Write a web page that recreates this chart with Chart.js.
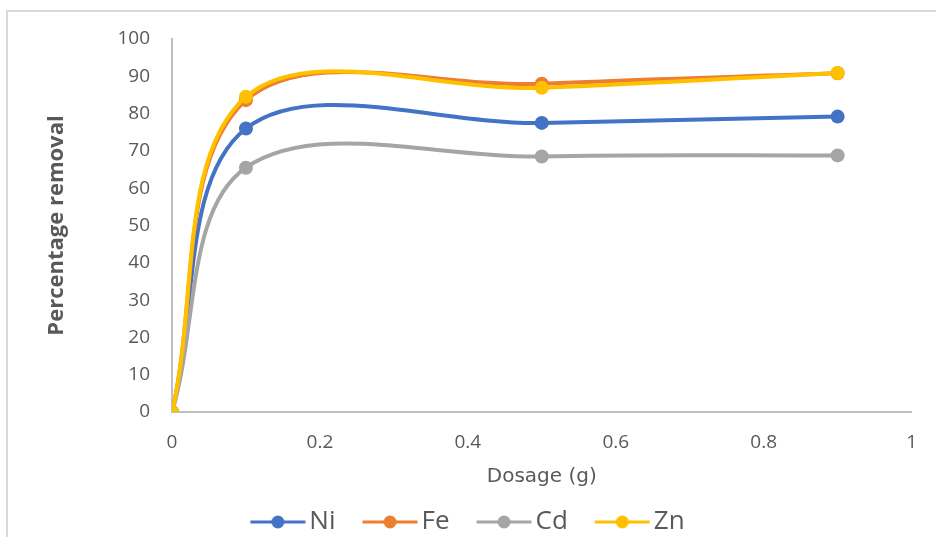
<!DOCTYPE html>
<html>
<head>
<meta charset="utf-8">
<script src="https://cdn.jsdelivr.net/npm/chart.js@4/dist/chart.umd.min.js"></script>
<style>
  html, body { margin: 0; padding: 0; background: #fff; }
  .frame { position: absolute; left: 6px; top: 10px; width: 1000px; height: 600px;
           border-left: 2px solid #d9d9d9; border-top: 2px solid #d9d9d9; }
  .wrap { position: absolute; left: 0; top: 0; width: 936px; height: 537px; }
</style>
</head>
<body>
<div class="frame"></div>
<div class="wrap"><canvas id="dosageChart"></canvas></div>
<script>
// dosage (g) on the x axis
const dosage = [0, 0.1, 0.5, 0.9];

// percentage removal per metal
const niRemoval = [0, 76, 77.5, 79.2];
const feRemoval = [0, 83.6, 88, 90.8];
const cdRemoval = [0, 65.5, 68.5, 68.8];
const znRemoval = [0, 84.5, 86.9, 90.9];

const metals = ['Ni', 'Fe', 'Cd', 'Zn'];
const colors = ['#4472C4', '#ED7D31', '#A5A5A5', '#FFC000'];
const series = [niRemoval, feRemoval, cdRemoval, znRemoval];

const textColor = '#595959';
const axisColor = '#bfbfbf';

// legend marker: short line with a dot, drawn off-centre so the text sits close
function legendMarker(color) {
  const c = document.createElement('canvas');
  c.width = 72;
  c.height = 16;
  const g = c.getContext('2d');
  g.strokeStyle = color;
  g.lineWidth = 3;
  g.beginPath();
  g.moveTo(16.5, 8);
  g.lineTo(71.5, 8);
  g.stroke();
  g.fillStyle = color;
  g.beginPath();
  g.arc(44, 8, 6.5, 0, Math.PI * 2);
  g.fill();
  return c;
}

const datasets = metals.map((name, i) => ({
  label: name,
  data: dosage.map((x, j) => ({ x: x, y: series[i][j] })),
  borderColor: colors[i],
  backgroundColor: colors[i],
  borderWidth: 4,
  pointRadius: 7,
  pointHoverRadius: 7,
  pointBorderWidth: 0,
  tension: 0.35,
  order: metals.length - 1 - i, // Zn drawn on top
}));

new Chart(document.getElementById('dosageChart'), {
  type: 'line',
  data: { datasets },
  options: {
    responsive: true,
    maintainAspectRatio: false,
    animation: false,
    layout: { padding: { left: 16, right: 24, top: 39, bottom: -8 } },
    plugins: {
      tooltip: { enabled: false },
      legend: {
        position: 'bottom',
        labels: {
          usePointStyle: true,
          pointStyleWidth: 53,
          boxHeight: 16,
          padding: 20,
          color: textColor,
          font: { family: 'Open Sans', size: 26 },
          sort: (a, b) => a.datasetIndex - b.datasetIndex,
          generateLabels: (chart) => chart.data.datasets.map((ds, i) => ({
            text: ds.label,
            pointStyle: legendMarker(colors[i]),
            fillStyle: colors[i],
            strokeStyle: colors[i],
            lineWidth: 0,
            fontColor: textColor,
            datasetIndex: i,
          })),
        },
      },
    },
    scales: {
      x: {
        type: 'linear',
        min: 0,
        max: 1,
        grid: { display: false, tickLength: 0 },
        border: { display: true, color: axisColor, width: 2 },
        ticks: {
          stepSize: 0.2,
          padding: 19,
          color: textColor,
          font: { family: 'Open Sans', size: 19 },
          callback: (v) => Math.round(v * 10) / 10,
        },
        title: {
          display: true,
          text: 'Dosage (g)',
          color: textColor,
          font: { family: 'DejaVu Sans', size: 20 },
          padding: { top: 0, bottom: 0 },
        },
        afterFit: (scale) => { scale.height = 77; },
      },
      y: {
        min: 0,
        max: 100,
        grid: { display: false, tickLength: 0 },
        border: { display: true, color: axisColor, width: 2 },
        ticks: {
          stepSize: 10,
          padding: 22,
          color: textColor,
          font: { family: 'Open Sans', size: 19 },
        },
        title: {
          display: true,
          text: 'Percentage removal',
          color: textColor,
          font: { family: 'Open Sans', size: 22, weight: 'bold' },
          padding: { top: 28, bottom: 0 },
        },
        afterFit: (scale) => { scale.width = 156; },
      },
    },
  },
});
</script>
</body>
</html>
